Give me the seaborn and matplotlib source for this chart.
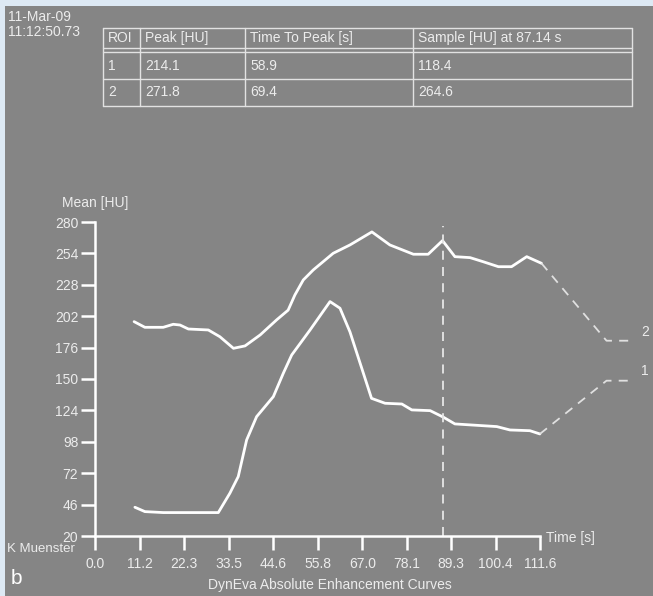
import matplotlib
matplotlib.use("Agg")
import matplotlib.pyplot as plt
import seaborn as sns
import numpy as np
import pandas as pd

# curve values (time [s], mean [HU])
roi1_t = [10.0, 12.5, 17.1, 30.9, 33.8, 35.9, 38.0, 40.5, 44.7, 47.2, 49.3,
          53.9, 58.9, 61.4, 63.9, 69.3, 72.7, 76.9, 79.4, 84.0, 87.3, 90.2,
          100.7, 104.0, 109.0, 111.5]
roi1_v = [43.8, 40.2, 39.4, 39.4, 55.4, 69.2, 99.5, 118.8, 135.4, 154.8, 169.9,
          190.6, 214.1, 208.6, 189.0, 134.0, 129.9, 129.3, 124.4, 123.8, 118.4,
          112.8, 110.6, 107.8, 107.2, 104.5]

roi2_t = [9.8, 12.5, 17.1, 19.6, 21.3, 23.4, 28.4, 31.3, 34.7, 37.6, 41.4,
          45.5, 48.4, 50.1, 52.2, 54.7, 59.7, 63.9, 69.4, 73.9, 79.8, 83.5,
          87.1, 90.2, 94.0, 97.3, 101.1, 104.4, 108.2, 111.9]
roi2_v = [197.5, 192.8, 192.8, 195.3, 194.7, 191.4, 190.6, 185.0, 175.4, 177.4,
          186.5, 198.9, 207.0, 219.6, 232.0, 240.3, 254.1, 261.0, 271.8, 261.0,
          253.3, 253.3, 264.6, 251.3, 250.5, 247.1, 243.0, 243.0, 251.3, 245.8]

# dashed extrapolation towards the end labels
ext1_t = [111.5, 128.2, 134.5]
ext1_v = [104.5, 148.6, 148.6]
ext2_t = [111.9, 128.2, 134.5]
ext2_v = [245.8, 181.7, 181.7]

xticks = [0.0, 11.2, 22.3, 33.5, 44.6, 55.8, 67.0, 78.1, 89.3, 100.4, 111.6]
yticks = [20, 46, 72, 98, 124, 150, 176, 202, 228, 254, 280]
sample_time = 87.14

table_header = ["ROI", "Peak [HU]", "Time To Peak [s]", "Sample [HU] at 87.14 s"]
table_rows = [["1", "214.1", "58.9", "118.4"],
              ["2", "271.8", "69.4", "264.6"]]

sns.set_theme(style="white")
plt.rcParams['font.family'] = ['Liberation Sans', 'DejaVu Sans']

bg = "#858585"
fg = "#ececec"
W, H = 653, 596

fig = plt.figure(figsize=(W / 100, H / 100), dpi=100, facecolor=bg)

# chart axes: x 0 at px 95, 3.99 px per second; y 20..280 between px 536 and 222
left, right_px = 95, 95 + 140 * 3.99
ax = fig.add_axes([left / W, (H - 536) / H, (right_px - left) / W, 314 / H])
ax.set_facecolor(bg)
ax.set_xlim(0, 140)
ax.set_ylim(20, 280)

df1 = pd.DataFrame({"t": roi1_t, "v": roi1_v})
df2 = pd.DataFrame({"t": roi2_t, "v": roi2_v})
sns.lineplot(data=df1, x="t", y="v", ax=ax, color="white", lw=2.0, sort=False)
sns.lineplot(data=df2, x="t", y="v", ax=ax, color="white", lw=2.0, sort=False)
ax.plot(ext1_t, ext1_v, color="#e0e0e0", lw=1.3, dashes=(5, 4))
ax.plot(ext2_t, ext2_v, color="#e0e0e0", lw=1.3, dashes=(5, 4))
ax.plot([sample_time, sample_time], [20, 277], color="#e6e6e6", lw=1.3,
        dashes=(5, 4))
ax.text(136.8, 189, "2", color=fg, fontsize=10, va="center", ha="left",
        clip_on=False)
ax.text(136.8, 157, "1", color=fg, fontsize=10, va="center", ha="left",
        clip_on=False)

for s in ["top", "right"]:
    ax.spines[s].set_visible(False)
for s in ["left", "bottom"]:
    ax.spines[s].set_color("white")
    ax.spines[s].set_linewidth(1.8)
ax.spines["left"].set_bounds(20, 280)
ax.spines["bottom"].set_bounds(0, 111.6)

ax.set_xticks(xticks)
ax.set_xticklabels(["%.1f" % x for x in xticks])
ax.set_yticks(yticks)
ax.set_yticklabels([str(y) for y in yticks])
ax.tick_params(axis="both", direction="out", length=10, width=1.8,
               color="white", labelcolor=fg, labelsize=10,
               bottom=True, left=True)
ax.tick_params(axis="x", pad=5)
ax.tick_params(axis="y", pad=2)
ax.set_xlabel("")
ax.set_ylabel("")

# overlay in pixel coordinates for table and annotations
ov = fig.add_axes([0, 0, 1, 1])
ov.set_xlim(0, W)
ov.set_ylim(H, 0)
ov.axis("off")
ov.patch.set_alpha(0)

# light blue frame of the screenshot
ov.add_patch(plt.Rectangle((0, 0), W, 6, color="#dde9f4", lw=0))
ov.add_patch(plt.Rectangle((0, 0), 5, H, color="#dde9f4", lw=0))

ov.text(8, 17, "11-Mar-09", color=fg, fontsize=10, va="center")
ov.text(8, 32, "11:12:50.73", color=fg, fontsize=10, va="center")

tcol = [103, 140, 245, 413, 632]
ttop, tdbl1, tdbl2, tsep, tbot = 28, 48, 52, 79, 106
lc = "#e2e2e2"
for y in [ttop, tdbl1, tdbl2, tsep, tbot]:
    ov.plot([tcol[0], tcol[-1]], [y, y], color=lc, lw=1.0)
for x in tcol:
    ov.plot([x, x], [ttop, tbot], color=lc, lw=1.0)
for i, h in enumerate(table_header):
    ov.text(tcol[i] + 5, (ttop + tdbl1) / 2, h, color=fg, fontsize=10,
            va="center")
row_mid = [(tdbl2 + tsep) / 2, (tsep + tbot) / 2]
for r, row in enumerate(table_rows):
    for i, cell in enumerate(row):
        ov.text(tcol[i] + 5, row_mid[r], cell, color=fg, fontsize=10,
                va="center")

ov.text(62, 203, "Mean [HU]", color=fg, fontsize=10, va="center")
ov.text(546, 538, "Time [s]", color=fg, fontsize=10, va="center")
ov.text(330, 585, "DynEva Absolute Enhancement Curves", color=fg, fontsize=10,
        va="center", ha="center")
ov.text(7, 549, "K Muenster", color=fg, fontsize=9.5, va="center")
ov.text(11, 578, "b", color="white", fontsize=15, va="center")

fig.savefig("out.png", dpi=100, facecolor=bg)
